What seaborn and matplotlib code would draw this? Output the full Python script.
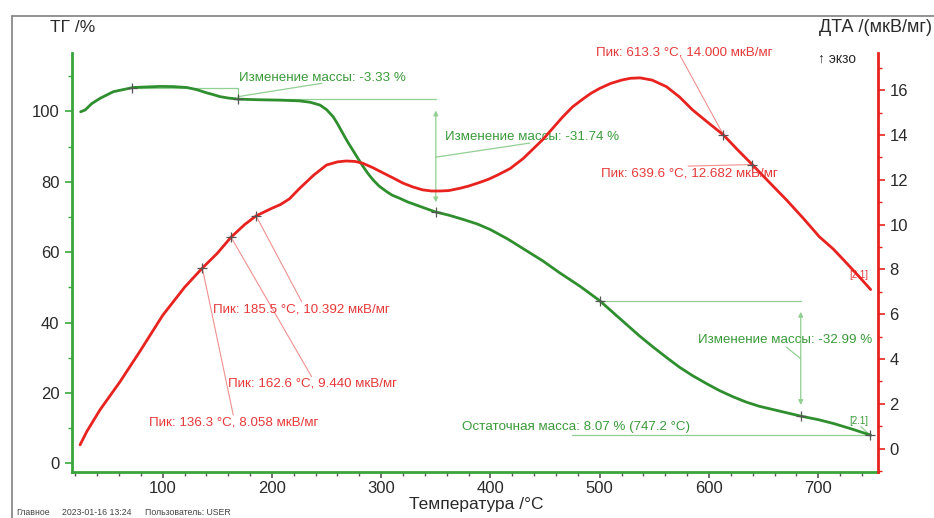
import matplotlib
matplotlib.use("Agg")
import matplotlib.pyplot as plt
from matplotlib.lines import Line2D
from matplotlib.ticker import MultipleLocator
import seaborn as sns
import pandas as pd

# ---------------- data ----------------
temp_tg = [24.9, 29, 35, 42.6, 54.8, 73, 97.5, 110, 122, 131, 140, 146, 152.4, 160, 169,
           178, 189, 207, 225, 235, 244, 250, 256, 260, 265, 269, 274, 279, 283.5, 288,
           292.7, 298, 305, 310, 317, 324, 332, 340, 350, 362, 375, 388, 400, 416, 433,
           448, 463, 482, 500, 512, 524, 536, 549, 561, 573, 585, 598, 610, 622, 634,
           646, 665, 684, 700, 714, 730, 748]
tg = [99.9, 100.4, 102.2, 103.7, 105.6, 106.8, 107.1, 107.05, 106.8, 106.2, 105.3, 104.8,
      104.2, 103.8, 103.5, 103.4, 103.3, 103.2, 103.0, 102.6, 101.8, 100.5, 98.5, 96.5,
      93.7, 91.5, 89.0, 86.5, 84.3, 82.3, 80.5, 78.8, 77.2, 76.2, 75.3, 74.3, 73.4, 72.5,
      71.4, 70.5, 69.3, 68.0, 66.4, 63.7, 60.4, 57.5, 54.2, 50.3, 46.2, 42.9, 39.6, 36.3,
      33.0, 30.1, 27.3, 24.9, 22.6, 20.6, 18.9, 17.4, 16.2, 14.8, 13.4, 12.4, 11.3, 9.8, 8.0]

temp_dta = [24.4, 30.5, 42.6, 61, 79, 100, 120, 136.3, 150, 162.6, 175, 185.5, 200, 208,
            216, 225, 238, 250, 260, 268, 276, 283, 292, 302, 311, 320, 329, 338, 346,
            354, 362, 372, 380, 390, 398, 406, 418, 430, 448, 457, 466, 475, 485, 492,
            500, 510, 520, 528, 537, 548, 561, 573, 585, 598, 613.3, 626, 639.6, 655, 671,
            686, 701, 714, 726, 737, 748]
dta = [0.17, 0.76, 1.73, 2.99, 4.33, 5.95, 7.2, 8.06, 8.72, 9.44, 10.0, 10.39, 10.73, 10.9,
       11.15, 11.6, 12.2, 12.66, 12.8, 12.84, 12.82, 12.74, 12.55, 12.3, 12.08, 11.85,
       11.68, 11.55, 11.5, 11.5, 11.52, 11.62, 11.72, 11.88, 12.02, 12.2, 12.5, 12.95,
       13.8, 14.3, 14.8, 15.25, 15.62, 15.86, 16.08, 16.3, 16.45, 16.53, 16.55, 16.45,
       16.16, 15.7, 15.12, 14.6, 14.0, 13.35, 12.68, 11.9, 11.1, 10.3, 9.46, 8.9, 8.28,
       7.7, 7.1]

# mass-change annotation points (temperature, TG)
mass_pts_t = [72, 169, 350, 500, 684, 747.2]
mass_pts_v = [106.6, 103.4, 71.4, 46.2, 13.4, 8.07]
mass_labels = ["Изменение массы: -3.33 %", "Изменение массы: -31.74 %",
               "Изменение массы: -32.99 %", "Остаточная масса: 8.07 % (747.2 °C)"]

# DTA peak points
peak_t = [136.3, 162.6, 185.5, 613.3, 639.6]
peak_v = [8.058, 9.440, 10.392, 14.000, 12.682]
peak_labels = ["Пик: 136.3 °C, 8.058 мкВ/мг", "Пик: 162.6 °C, 9.440 мкВ/мг",
               "Пик: 185.5 °C, 10.392 мкВ/мг", "Пик: 613.3 °C, 14.000 мкВ/мг",
               "Пик: 639.6 °C, 12.682 мкВ/мг"]
# label positions (temperature, DTA) and leader ends
peak_text_xy = [(87.5, 1.16), (159.5, 2.92), (146.3, 6.22), (497, 17.66), (501.6, 12.3)]
peak_lead_xy = [(164.6, 1.5), (236.3, 3.21), (227.2, 6.56), (574.8, 17.44), (580.9, 12.61)]

xticks = [100, 200, 300, 400, 500, 600, 700]
tg_ticks = [0, 20, 40, 60, 80, 100]
dta_ticks = [0, 2, 4, 6, 8, 10, 12, 14, 16]

# ---------------- style ----------------
sns.set_theme(style="white")
plt.rcParams["font.family"] = ["Liberation Sans", "DejaVu Sans"]

GREEN = "#2f8f2f"
GREEN_SP = "#3aa53a"
GREEN_TXT = "#3a9a3a"
GREEN_LN = "#92cf92"
RED = "#e8221e"
RED_TXT = "#e5393a"
RED_LN = "#f09090"
DARK = "#2a2a2a"
ANN_FS = 9.6
TICK_FS = 12

fig = plt.figure(figsize=(9.34, 5.18), dpi=100)
ax = fig.add_axes([72 / 934, 1 - 471.7 / 518, (878.3 - 72) / 934, (471.7 - 53) / 518])
ax2 = ax.twinx()

df_tg = pd.DataFrame({"T": temp_tg, "TG": tg})
df_dta = pd.DataFrame({"T": temp_dta, "DTA": dta})
sns.lineplot(data=df_tg, x="T", y="TG", ax=ax, color=GREEN, linewidth=2.0, zorder=5)
sns.lineplot(data=df_dta, x="T", y="DTA", ax=ax2, color=RED, linewidth=2.0, zorder=5)

ax.set_xlim(17, 755)
ax.set_ylim(-2.4, 116.6)
ax2.set_ylim(-1.03, 17.66)

ax.set_xticks(xticks)
ax.xaxis.set_minor_locator(MultipleLocator(20))
ax.set_yticks(tg_ticks)
ax.yaxis.set_minor_locator(MultipleLocator(10))
ax2.set_yticks(dta_ticks)
ax2.yaxis.set_minor_locator(MultipleLocator(1))

for a in (ax, ax2):
    a.set_xlabel("")
    a.set_ylabel("")
    a.grid(False)
    for s in a.spines.values():
        s.set_visible(False)
ax.spines["left"].set_visible(True)
ax.spines["left"].set_color(GREEN_SP)
ax.spines["left"].set_linewidth(2)
ax.spines["bottom"].set_visible(True)
ax.spines["bottom"].set_color(GREEN_SP)
ax.spines["bottom"].set_linewidth(2)
ax2.spines["right"].set_visible(True)
ax2.spines["right"].set_color(RED)
ax2.spines["right"].set_linewidth(2)

ax.tick_params(axis="y", which="both", left=True, direction="out", color=GREEN_SP,
               labelcolor=DARK, labelsize=TICK_FS, pad=4)
ax.tick_params(axis="y", which="major", length=5, width=1.2)
ax.tick_params(axis="y", which="minor", length=3, width=1)
ax.tick_params(axis="x", which="both", bottom=True, direction="out", color="#555555",
               labelcolor=DARK, labelsize=TICK_FS, pad=3)
ax.tick_params(axis="x", which="major", length=4, width=1.2)
ax.tick_params(axis="x", which="minor", length=3, width=1)
ax2.tick_params(axis="y", which="both", right=True, direction="out", color=RED,
                labelcolor=DARK, labelsize=TICK_FS, pad=3)
ax2.tick_params(axis="y", which="major", length=5, width=1.2)
ax2.tick_params(axis="y", which="minor", length=3, width=1)

# ---------------- mass change annotations (TG axis) ----------------
lkw = dict(color=GREEN_LN, lw=0.9, zorder=3)
t0, t1, t2, t3, t4, t5 = mass_pts_t
v0, v1, v2, v3, v4, v5 = mass_pts_v
# step 1
ax.plot([t0, t1], [v0, v0], **lkw)
ax.plot([t1, t1], [v0, v1], **lkw)
ax.plot([t1, 245.8], [104.2, 108.0], **lkw)
ax.text(170, 109.6, mass_labels[0], color=GREEN_TXT, fontsize=ANN_FS, va="center", ha="left")
# step 2
ax.plot([t1, t2], [v1, v1], **lkw)
ax.annotate("", xy=(t2, v2), xytext=(t2, v1),
            arrowprops=dict(arrowstyle="<|-|>", color=GREEN_LN, lw=0.9, shrinkA=8,
                            shrinkB=7, mutation_scale=7), zorder=3)
ax.plot([t2, 436], [87.0, 91.0], **lkw)
ax.text(358.3, 92.6, mass_labels[1], color=GREEN_TXT, fontsize=ANN_FS, va="center", ha="left")
# step 3
ax.plot([t3, t4], [v3, v3], **lkw)
ax.annotate("", xy=(t4, v4), xytext=(t4, v3),
            arrowprops=dict(arrowstyle="<|-|>", color=GREEN_LN, lw=0.9, shrinkA=8,
                            shrinkB=8, mutation_scale=7), zorder=3)
ax.plot([t4, 670.9], [29.7, 33.0], **lkw)
ax.text(590, 34.9, mass_labels[2], color=GREEN_TXT, fontsize=ANN_FS, va="center", ha="left")
# residual mass
ax.plot([475, t5], [v5, v5], **lkw)
ax.text(373.6, 10.4, mass_labels[3], color=GREEN_TXT, fontsize=ANN_FS, va="center", ha="left")
ax.text(728, 11.9, "[2.1]", color=GREEN_TXT, fontsize=7, va="center", ha="left")
ax.plot([739, t5], [10.4, v5], **lkw)
ax.scatter(mass_pts_t, mass_pts_v, marker="+", s=45, color="#555555", linewidths=0.9,
           zorder=6)

# ---------------- DTA peak annotations ----------------
for (pt, pv, lab, txy, lxy) in zip(peak_t, peak_v, peak_labels, peak_text_xy, peak_lead_xy):
    ax2.plot([pt, lxy[0]], [pv, lxy[1]], color=RED_LN, lw=0.8, zorder=3)
    ax2.text(txy[0], txy[1], lab, color=RED_TXT, fontsize=ANN_FS, va="center", ha="left",
             zorder=7)
ax2.scatter(peak_t, peak_v, marker="+", s=45, color="#555555", linewidths=0.9, zorder=6)
ax2.text(728.5, 7.74, "[2.1]", color=RED_TXT, fontsize=7, va="center", ha="left")

# ---------------- titles / labels ----------------
fig.text(50 / 934, 1 - 27 / 518, "ТГ /%", fontsize=12.5, color=DARK, va="center", ha="left")
fig.text(819 / 934, 1 - 27 / 518, "ДТА /(мкВ/мг)", fontsize=13, color=DARK,
         va="center", ha="left")
fig.text(818 / 934, 1 - 59 / 518, "↑ экзо", fontsize=10, color=DARK, va="center",
         ha="left", family=["Liberation Sans", "DejaVu Sans"])
fig.text(476 / 934, 1 - 504.5 / 518, "Температура /°C", fontsize=12.5, color=DARK,
         va="center", ha="center")
fig.text(16.7 / 934, 1 - 512.5 / 518, "Главное", fontsize=6.3, color="#444444", va="center")
fig.text(61.7 / 934, 1 - 512.5 / 518, "2023-01-16 13:24", fontsize=6.3, color="#444444",
         va="center")
fig.text(145 / 934, 1 - 512.5 / 518, "Пользователь: USER", fontsize=6.3, color="#444444",
         va="center")

# outer frame (top and left edges visible)
fig.add_artist(Line2D([11.7 / 934, 11.7 / 934], [0, 1 - 15.7 / 518], color="#8a8a8a",
                      lw=1.3, transform=fig.transFigure))
fig.add_artist(Line2D([11.7 / 934, 1], [1 - 15.7 / 518, 1 - 15.7 / 518], color="#8a8a8a",
                      lw=1.3, transform=fig.transFigure))

fig.savefig("out.png", dpi=100)
